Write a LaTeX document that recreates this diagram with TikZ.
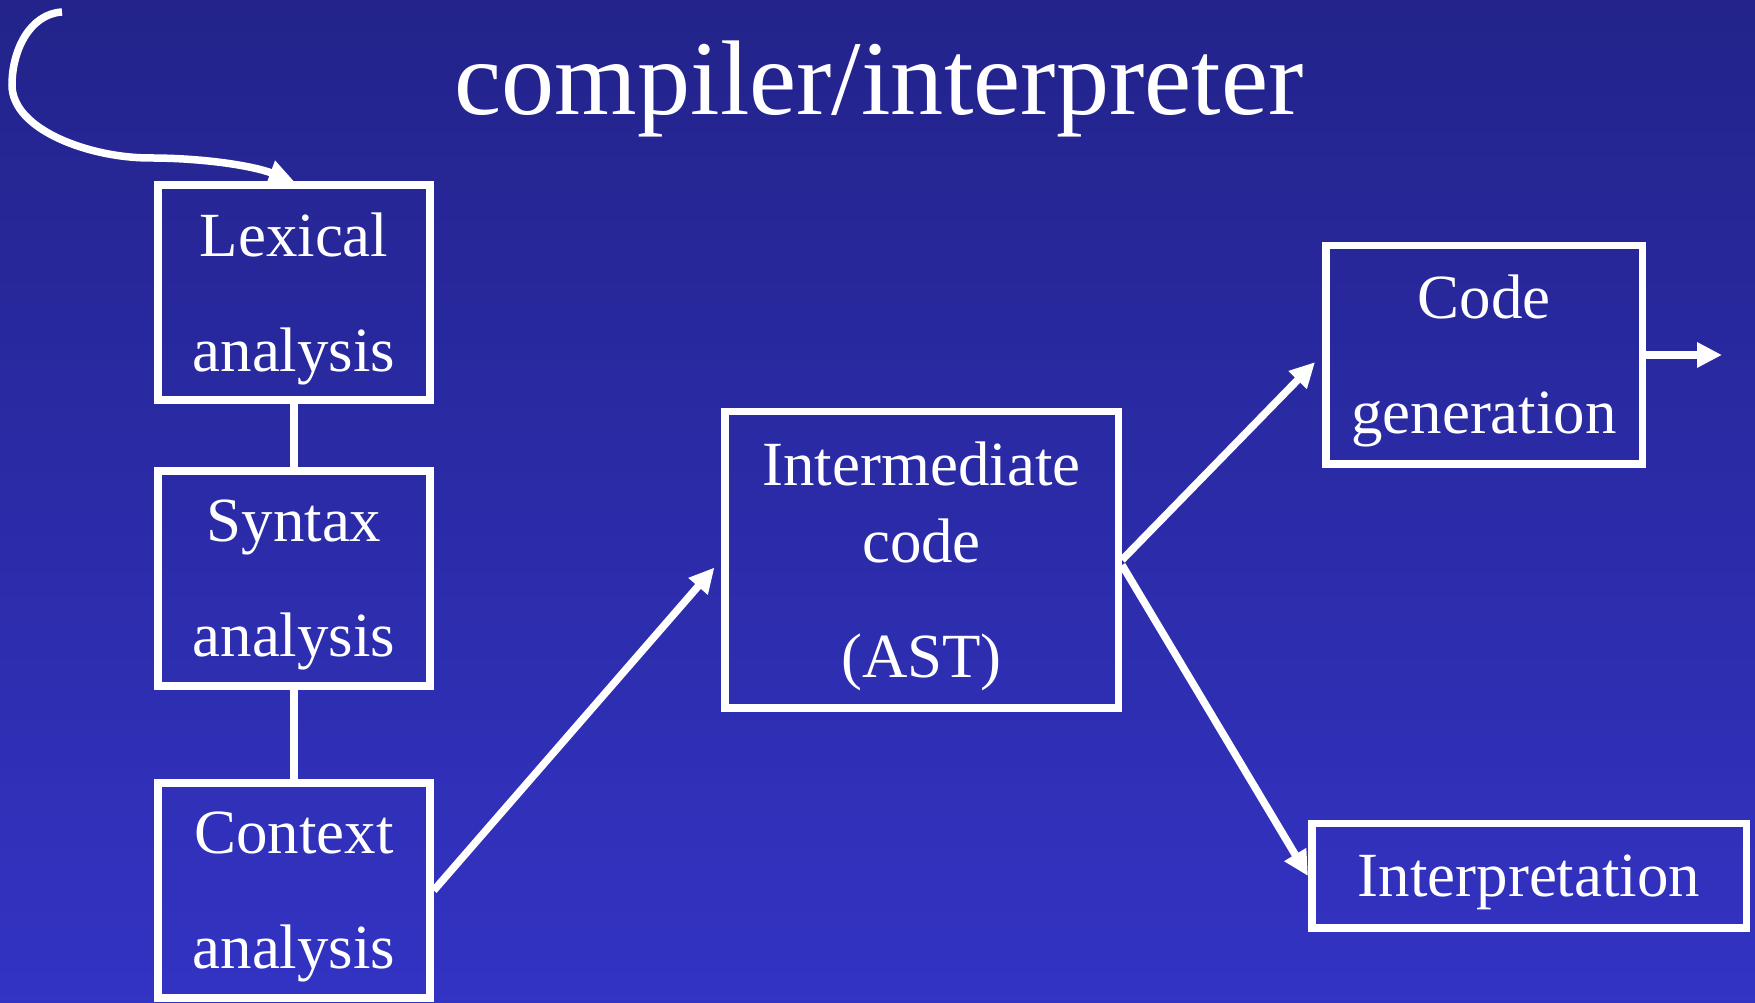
\documentclass[tikz,border=0pt]{standalone}
\usepackage{fontspec}
\setmainfont{Liberation Serif}
\usetikzlibrary{arrows.meta, positioning}

\definecolor{slidetop}{RGB}{35,35,139}
\definecolor{slidebottom}{RGB}{51,51,196}

\tikzset{
  phase/.style={draw=white, text=white, align=center, inner sep=0pt,
    text depth=0.3pt, font=\fontsize{17.9pt}{32.7pt}\selectfont},
  analysis/.style={phase, minimum width=2.72cm, minimum height=2.15cm},
}

\begin{document}
\begin{tikzpicture}[-{Triangle[length=0.25cm,width=0.24cm]}, line width=0.075cm, white]
			% slide background
			\shade[-, top color=slidetop, bottom color=slidebottom] (0,0) rectangle (17.55,-10.03);
			\useasboundingbox (0,0) rectangle (17.55,-10.03);

			\node (title) [anchor=base, font=\fontsize{30.2pt}{36pt}\selectfont] at (8.79,-1.15) {compiler/interpreter};

			\node (lex) [analysis] at (2.94,-2.925) {Lexical\\analysis};
			\node (syn) [analysis, node distance=2.86cm, below of=lex] {Syntax\\analysis};
			\node (ctx) [analysis, node distance=3.12cm, below of=syn] {Context\\analysis};
			\node (inter) [phase, minimum width=3.935cm, minimum height=2.965cm,
			  font=\fontsize{17.9pt}{21.9pt}\selectfont] at (9.215,-5.60) {Intermediate\\code\\[10.8pt](AST)};
			\node (code) [phase, minimum width=3.165cm, minimum height=2.185cm] at (14.84,-3.55) {Code\\generation};
			\node (interp) [phase, minimum width=4.345cm, minimum height=1.045cm] at (15.29,-8.76) {Interpretation};

			\coordinate (src) at (0.62,-0.12);
			\coordinate (out) at (17.22,-3.55);

			% source text coming in
			\draw (src) .. controls (0.30,-0.14) and (0.12,-0.50) .. (0.12,-0.85)
			  .. controls (0.12,-1.30) and (0.90,-1.58) .. (1.50,-1.58)
			  .. controls (2.00,-1.58) and (2.50,-1.65) .. (lex.north);

			\path
			  (lex) edge[-] (syn)
			  (syn) edge[-] (ctx)
			  (ctx.east) edge[shorten >=0.1cm] (inter.west)
			  (inter.east) edge[shorten >=0.1cm] (code.west)
			  ([yshift=-0.05cm]inter.east) edge (interp.west)
			  (code.east) edge (out);

		  \end{tikzpicture}
\end{document}
